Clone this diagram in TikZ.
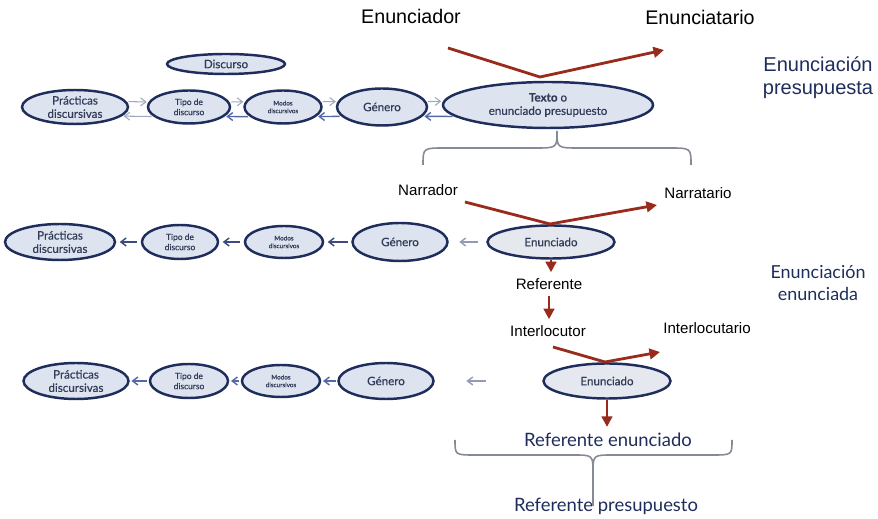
\documentclass[tikz,border=0pt]{standalone}
\usepackage{fontspec}
\setmainfont{Liberation Sans}
\newfontfamily\gill{Lato}
\newfontfamily\gillm{Lato}[FakeBold=0.6]
\usetikzlibrary{shapes.geometric,arrows.meta}

\definecolor{navy}{HTML}{1F2D5C}
\definecolor{fillblue}{HTML}{DDE4F0}
\definecolor{fillgray}{HTML}{E5E8EE}
\definecolor{ink}{HTML}{323C58}
\definecolor{darkred}{HTML}{982B1C}
\definecolor{lightarr}{HTML}{A0A8BE}
\definecolor{midarr}{HTML}{5469A6}
\definecolor{deeparr}{HTML}{3C4C80}
\definecolor{bracegray}{HTML}{858B96}

\begin{document}
\begin{tikzpicture}[x=0.02cm, y=-0.02cm,
	elli/.style={ellipse, draw=navy, line width=1.4pt, fill=fillblue, text=ink, inner sep=0pt, align=center},
	txtbig/.style={font=\gillm\fontsize{6.6}{7.6}\selectfont},
	txtmid/.style={font=\gillm\fontsize{4.8}{5.8}\selectfont},
	txtsmall/.style={font=\gillm\fontsize{3.6}{4.4}\selectfont},
	lbl/.style={font=\fontsize{8.6}{10}\selectfont},
	lblbig/.style={font=\fontsize{11.2}{13}\selectfont},
	side/.style={text=navy, align=center},
	redarr/.style={draw=darkred, line width=1.6pt, -{Triangle[length=6pt,width=6pt]}},
	fwd/.style={draw=lightarr, line width=0.6pt, shorten <=1pt, shorten >=1pt, -{Straight Barb[length=3pt,width=4.5pt]}},
	bwd/.style={draw=midarr, line width=0.8pt, shorten <=1pt, shorten >=1pt, -{Straight Barb[length=3pt,width=4.5pt]}},
	back/.style={draw=deeparr, line width=0.8pt, shorten <=2pt, shorten >=2pt, -{Straight Barb[length=3pt,width=4.5pt]}},
	faint/.style={draw=lightarr!80!midarr, line width=0.8pt, -{Straight Barb[length=3pt,width=4.5pt]}},
	brace/.style={draw=bracegray, line width=0.9pt}
]

	\useasboundingbox (0,0) rectangle (878,519);

	\def\rowa{107}
	\def\rowb{242}
	\def\rowc{381}

	\node[elli, txtbig, minimum width=2.36cm, minimum height=0.4cm] (disc) at (226,64) {Discurso};
	\node[elli, txtbig, minimum width=2.12cm, minimum height=0.68cm] (prac1) at (75,\rowa) {Prácticas\\discursivas};
	\node[elli, txtmid, minimum width=1.64cm, minimum height=0.66cm] (tipo1) at (189,\rowa) {Tipo de\\discurso};
	\node[elli, txtsmall, minimum width=1.54cm, minimum height=0.66cm] (modos1) at (283,\rowa) {Modos\\discursivos};
	\node[elli, txtbig, minimum width=1.8cm, minimum height=0.74cm] (gen1) at (382,\rowa) {Género};
	\node[elli, txtbig, minimum width=4.2cm, minimum height=0.92cm] (texto) at (548,105) {\textbf{Texto} o\\enunciado presupuesto};

	\draw[fwd] (prac1.6) -- (tipo1.173);
	\draw[fwd] (tipo1.7) -- (modos1.172);
	\draw[fwd] (modos1.8) -- (gen1.173);
	\draw[fwd] (gen1.7) -- (texto.178);
	\draw[fwd] (tipo1.195) -- (prac1.-11);
	\draw[bwd] (modos1.196) -- (tipo1.-15);
	\draw[bwd] (gen1.193) -- (modos1.-16);
	\draw[bwd] (texto.187) -- (gen1.-13);

	\node[lblbig] (enunciador) at (411,16) {Enunciador};
	\node[lblbig] (enunciatario) at (700,17) {Enunciatario};
	\coordinate (a1) at (448,48);
	\coordinate (v1) at (540,77);
	\coordinate (b1) at (664,50);
	\draw[redarr] (a1) -- (v1) -- (b1);

	\node[side, font=\fontsize{11.4}{13}\selectfont] (enpres) at (818,78) {Enunciación\\presupuesta};

	\draw[brace] (423,165) .. controls (423,148) .. (445,148) -- (535,148) .. controls (557,148) .. (557,131) .. controls (557,148) .. (579,148) -- (669,148) .. controls (691,148) .. (691,165);

	\node[elli, txtbig, minimum width=2.2cm, minimum height=0.72cm] (prac2) at (60,\rowb) {Prácticas\\discursivas};
	\node[elli, txtmid, minimum width=1.52cm, minimum height=0.68cm] (tipo2) at (180,\rowb) {Tipo de\\discurso};
	\node[elli, txtsmall, minimum width=1.56cm, minimum height=0.64cm] (modos2) at (284,\rowb) {Modos\\discursivos};
	\node[elli, txtbig, minimum width=1.9cm, minimum height=0.76cm] (gen2) at (400,\rowb) {Género};
	\node[elli, txtbig, fill=fillgray, minimum width=2.54cm, minimum height=0.66cm] (enun2) at (551,\rowb) {Enunciado};

	\draw[back] (tipo2) -- (prac2);
	\draw[back] (modos2) -- (tipo2);
	\draw[back] (gen2) -- (modos2);
	\draw[faint, shorten <=4.5pt, shorten >=6pt] (enun2) -- (gen2);

	\node[lbl] (narrador) at (428,190) {Narrador};
	\node[lbl] (narratario) at (698,193) {Narratario};
	\coordinate (a2) at (465,202);
	\coordinate (v2) at (550,224);
	\coordinate (b2) at (657,205);
	\draw[redarr] (a2) -- (v2) -- (b2);

	\node[lbl] (referente) at (549,284) {Referente};
	\node[lbl] (interlocutor) at (548,331) {Interlocutor};
	\node[lbl] (interlocutario) at (707,328) {Interlocutario};
	\draw[redarr] (enun2.south) -- (enun2.south |- referente.north);
	\draw[redarr] (referente.south) -- (referente.south |- interlocutor.north);

	\node[side, font=\gill\fontsize{10.2}{12}\selectfont] (enenun) at (818,283) {Enunciación\\enunciada};

	\node[elli, txtbig, minimum width=2.1cm, minimum height=0.72cm] (prac3) at (76,\rowc) {Prácticas\\discursivas};
	\node[elli, txtmid, minimum width=1.56cm, minimum height=0.68cm] (tipo3) at (189,\rowc) {Tipo de\\discurso};
	\node[elli, txtsmall, minimum width=1.56cm, minimum height=0.64cm] (modos3) at (281,\rowc) {Modos\\discursivos};
	\node[elli, txtbig, minimum width=1.9cm, minimum height=0.72cm] (gen3) at (386,\rowc) {Género};
	\node[elli, txtbig, fill=fillgray, minimum width=2.54cm, minimum height=0.7cm] (enun3) at (607,\rowc) {Enunciado};

	\draw[bwd] (tipo3) -- (prac3);
	\draw[bwd] (modos3) -- (tipo3);
	\draw[bwd] (gen3) -- (modos3);
	\draw[faint, shorten <=32pt, shorten >=18pt] (enun3) -- (gen3);

	\coordinate (a3) at (553,347);
	\coordinate (v3) at (605,362);
	\coordinate (b3) at (660,352);
	\draw[redarr] (a3) -- (v3) -- (b3);

	\node[side, font=\gill\fontsize{10.5}{12}\selectfont] (refenun) at (608,440) {Referente enunciado};
	\node[side, font=\gill\fontsize{10.5}{12}\selectfont] (refpres) at (606,506) {Referente presupuesto};
	\draw[redarr] (enun3.south) -- (enun3.south |- refenun.north);

	\draw[brace] (455,440) .. controls (455,455) .. (475,455) -- (573,455) .. controls (593,455) .. (593,473) .. controls (593,455) .. (613,455) -- (712,455) .. controls (732,455) .. (732,440);
	\coordinate (tip) at (593,473);
	\draw[brace] (tip) -- (tip |- refpres.center);

\end{tikzpicture}
\end{document}
